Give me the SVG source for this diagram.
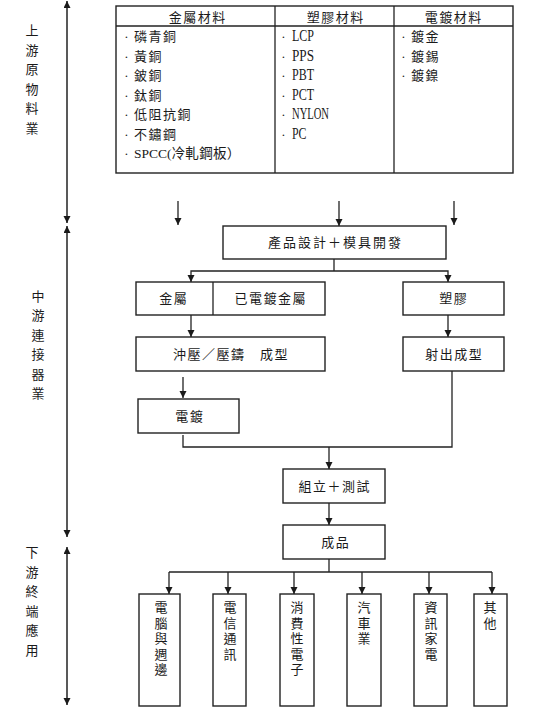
<svg xmlns="http://www.w3.org/2000/svg" width="555" height="709" viewBox="0 0 555 709">
<defs>
<marker id="ah" markerUnits="userSpaceOnUse" markerWidth="8" markerHeight="8" refX="7" refY="3.5" orient="auto-start-reverse">
<path d="M0,0 L7,3.5 L0,7 z" fill="#1a1a1a"/>
</marker>
<style>
.t{font-family:"Liberation Serif","Noto Sans CJK TC",serif;font-size:13px;fill:#1a1a1a}
.c{text-anchor:middle}
.ls{letter-spacing:1.5px}
.lat{font-family:"Liberation Serif",serif;font-size:16px;fill:#1a1a1a}
.box{fill:#fff;stroke:#222;stroke-width:1.4}
.ln{fill:none;stroke:#222;stroke-width:1.3}
.ar{fill:none;stroke:#222;stroke-width:1.3;marker-end:url(#ah)}
.ax{fill:none;stroke:#222;stroke-width:1.5;marker-start:url(#ah);marker-end:url(#ah)}
</style>
</defs>
<rect width="555" height="709" fill="#fff"/>

<g id="axis">
<line class="ax" x1="67" y1="1" x2="67" y2="223"/>
<line class="ax" x1="67" y1="226" x2="67" y2="537"/>
<line class="ax" x1="67" y1="547" x2="67" y2="705"/>
<g class="t c">
<text x="32" y="35">上</text><text x="32" y="54.5">游</text><text x="32" y="74">原</text><text x="32" y="93.5">物</text><text x="32" y="113">料</text><text x="32" y="132.5">業</text>
<text x="38" y="300.5">中</text><text x="38" y="320">游</text><text x="38" y="339.5">連</text><text x="38" y="359">接</text><text x="38" y="378.5">器</text><text x="38" y="398">業</text>
<text x="32" y="557">下</text><text x="32" y="576.5">游</text><text x="32" y="596">終</text><text x="32" y="615.5">端</text><text x="32" y="635">應</text><text x="32" y="654.5">用</text>
</g>
</g>

<g id="materials">
<rect class="box" x="116" y="6" width="397" height="167"/>
<line class="ln" x1="116" y1="26" x2="513" y2="26"/>
<line class="ln" x1="275" y1="6" x2="275" y2="173"/>
<line class="ln" x1="394" y1="6" x2="394" y2="173"/>
<g class="t c ls">
<text x="197.7" y="21.5">金屬材料</text>
<text x="335.7" y="21.5">塑膠材料</text>
<text x="453.7" y="21.5">電鍍材料</text>
</g>
<g class="t c">
<text x="126.5" y="41">·</text><text x="126.5" y="60.5">·</text><text x="126.5" y="80">·</text><text x="126.5" y="99.5">·</text><text x="126.5" y="119">·</text><text x="126.5" y="138.5">·</text><text x="126.5" y="158">·</text>
<text x="283.5" y="41">·</text><text x="283.5" y="60.5">·</text><text x="283.5" y="80">·</text><text x="283.5" y="99.5">·</text><text x="283.5" y="119">·</text><text x="283.5" y="138.5">·</text>
<text x="403.5" y="41">·</text><text x="403.5" y="60.5">·</text><text x="403.5" y="80">·</text>
</g>
<g class="t ls">
<text x="134" y="41">磷青銅</text>
<text x="134" y="60.5">黃銅</text>
<text x="134" y="80">鈹銅</text>
<text x="134" y="99.5">鈦銅</text>
<text x="134" y="119">低阻抗銅</text>
<text x="134" y="138.5">不鏽鋼</text>
<text x="411" y="41">鍍金</text>
<text x="411" y="60.5">鍍錫</text>
<text x="411" y="80">鍍鎳</text>
</g>
<text class="t" x="134" y="158" style="font-size:13.5px">SPCC(<tspan style="letter-spacing:0.3px">冷軋鋼板）</tspan></text>
<g class="lat">
<text x="292" y="41" textLength="22" lengthAdjust="spacingAndGlyphs">LCP</text>
<text x="292" y="60.5" textLength="22" lengthAdjust="spacingAndGlyphs">PPS</text>
<text x="292" y="80" textLength="22" lengthAdjust="spacingAndGlyphs">PBT</text>
<text x="292" y="99.5" textLength="22" lengthAdjust="spacingAndGlyphs">PCT</text>
<text x="292" y="119" textLength="37" lengthAdjust="spacingAndGlyphs">NYLON</text>
<text x="292" y="138.5" textLength="14.5" lengthAdjust="spacingAndGlyphs">PC</text>
</g>
</g>

<g id="design">
<rect class="box" x="223" y="226" width="223" height="33"/>
<text class="t c" x="335.5" y="247" style="letter-spacing:2px">產品設計＋模具開發</text>
</g>
<g id="metal">
<rect class="box" x="136" y="282" width="189" height="33"/>
<line class="ln" x1="213" y1="282" x2="213" y2="315"/>
<text class="t c ls" x="173.7" y="303">金屬</text>
<text class="t c ls" x="270.7" y="303">已電鍍金屬</text>
</g>
<g id="plastic">
<rect class="box" x="403" y="282" width="101" height="33"/>
<text class="t c ls" x="453.7" y="303">塑膠</text>
</g>
<g id="stamping">
<rect class="box" x="136" y="337" width="189" height="34"/>
<text class="t ls" x="173" y="359">沖壓／壓鑄　成型</text>
</g>
<g id="injection">
<rect class="box" x="403" y="337" width="101" height="34"/>
<text class="t c ls" x="454.2" y="359">射出成型</text>
</g>
<g id="plating">
<rect class="box" x="138" y="399" width="101" height="34"/>
<text class="t c ls" x="189.7" y="421">電鍍</text>
</g>
<g id="assembly">
<rect class="box" x="283" y="469" width="102" height="34"/>
<text class="t c ls" x="334.7" y="491">組立＋測試</text>
</g>
<g id="product">
<rect class="box" x="283" y="525" width="102" height="34"/>
<text class="t c ls" x="335.7" y="547">成品</text>
</g>

<g id="apps">
<rect class="box" x="139" y="594" width="41" height="112"/>
<rect class="box" x="213" y="594" width="33" height="112"/>
<rect class="box" x="280" y="594" width="34" height="112"/>
<rect class="box" x="347" y="594" width="34" height="112"/>
<rect class="box" x="414" y="594" width="33" height="112"/>
<rect class="box" x="474" y="594" width="33" height="112"/>
<g class="t c">
<text x="161" y="612">電</text><text x="161" y="627.5">腦</text><text x="161" y="643">與</text><text x="161" y="658.5">週</text><text x="161" y="674">邊</text>
<text x="230" y="612">電</text><text x="230" y="627.5">信</text><text x="230" y="643">通</text><text x="230" y="658.5">訊</text>
<text x="297" y="612">消</text><text x="297" y="627.5">費</text><text x="297" y="643">性</text><text x="297" y="658.5">電</text><text x="297" y="674">子</text>
<text x="364" y="612">汽</text><text x="364" y="627.5">車</text><text x="364" y="643">業</text>
<text x="431" y="612">資</text><text x="431" y="627.5">訊</text><text x="431" y="643">家</text><text x="431" y="658.5">電</text>
<text x="490" y="612">其</text><text x="490" y="627.5">他</text>
</g>
</g>

<g id="connectors">
<line class="ar" x1="178" y1="201" x2="178" y2="225"/>
<line class="ar" x1="339" y1="201" x2="339" y2="226"/>
<line class="ar" x1="454" y1="201" x2="454" y2="225"/>
<polyline class="ln" points="334,259 334,271"/>
<polyline class="ar" points="334,271 191,271 191,282"/>
<polyline class="ar" points="334,271 448,271 448,282"/>
<line class="ar" x1="191" y1="315" x2="191" y2="337"/>
<line class="ar" x1="448" y1="315" x2="448" y2="337"/>
<line class="ar" x1="183" y1="377" x2="183" y2="398"/>
<polyline class="ln" points="183,435 183,447 452,447 452,371"/>
<line class="ar" x1="329" y1="447" x2="329" y2="469"/>
<line class="ar" x1="329" y1="503" x2="329" y2="525"/>
<line class="ln" x1="329" y1="559" x2="329" y2="572"/>
<line class="ln" x1="169" y1="572" x2="492" y2="572"/>
<line class="ar" x1="169" y1="572" x2="169" y2="594"/>
<line class="ar" x1="228" y1="572" x2="228" y2="594"/>
<line class="ar" x1="294" y1="572" x2="294" y2="594"/>
<line class="ar" x1="362" y1="572" x2="362" y2="594"/>
<line class="ar" x1="429" y1="572" x2="429" y2="594"/>
<line class="ar" x1="492" y1="572" x2="492" y2="594"/>
</g>
</svg>
